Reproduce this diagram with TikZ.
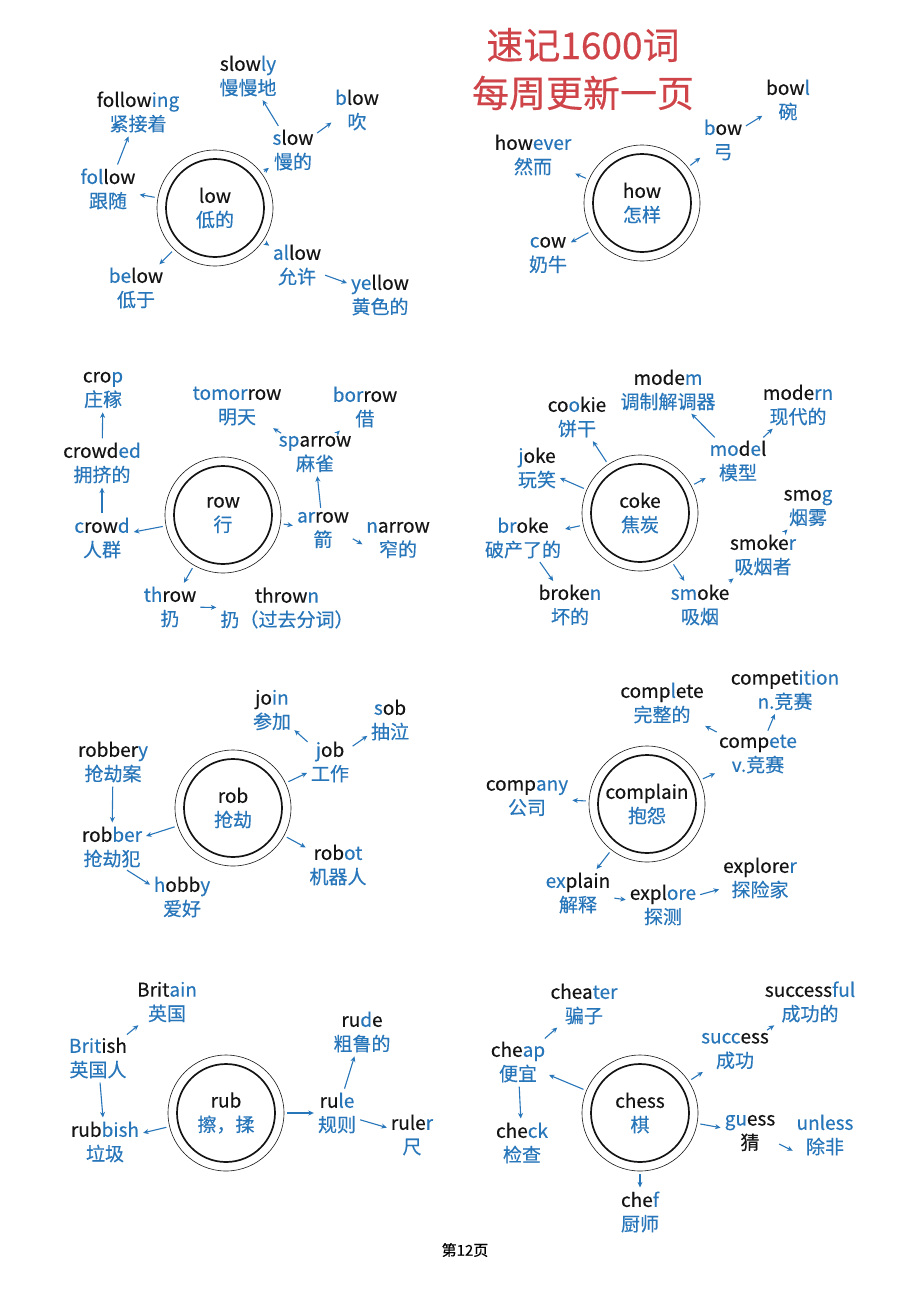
\documentclass[tikz,border=0pt]{standalone}
\usepackage{fontspec}
\setmainfont{Noto Sans CJK SC}[FakeBold=0.35]
\usetikzlibrary{arrows.meta}
\definecolor{wblue}{RGB}{40,118,186}
\definecolor{wred}{RGB}{206,68,72}
\definecolor{wink}{RGB}{20,20,20}
\newcommand{\bl}[1]{\textcolor{wblue}{#1}}
\newcommand{\wfont}{\fontsize{19}{24}\selectfont}
\tikzset{
  hub/.style={circle, draw=wink, line width=0.6pt, minimum size=116pt, inner sep=0pt, align=center, font=\wfont, text=wink},
  word/.style={align=center, inner sep=1pt, font=\wfont, text=wink},
  arr/.style={draw=wblue, line width=1.1pt, -{Stealth[length=5.5pt,width=5pt]}, shorten <=3pt, shorten >=3pt},
  innerring/.style={line width=1.7pt, draw=wink},
  titletext/.style={font=\fontsize{37}{42}\selectfont, text=wred},
}
\begin{document}
\begin{tikzpicture}[x=1pt,y=-1pt]
\fill[white] (0,0) rectangle (918,1298);
\useasboundingbox (0,0) rectangle (918,1298);

% title
\node[titletext] (t1) at (583,45) {速记1600词};
\node[titletext] (t2) at (583,93) {每周更新一页};

% ---------- low ----------
\node[hub] (low) at (215,208) {low\\\bl{低的}};
\draw[innerring] (low.center) circle (49pt);
\node[word] (slowly) at (248,76) {slow\bl{ly}\\\bl{慢慢地}};
\node[word] (following) at (138,112) {follow\bl{ing}\\\bl{紧接着}};
\node[word] (blow) at (357,110) {\bl{b}low\\\bl{吹}};
\node[word] (slow) at (293,150) {\bl{s}low\\\bl{慢的}};
\node[word] (follow) at (108,189) {\bl{fol}low\\\bl{跟随}};
\node[word] (allow) at (297,265) {\bl{al}low\\\bl{允许}};
\node[word] (below) at (136,288) {\bl{be}low\\\bl{低于}};
\node[word] (yellow) at (380,295) {\bl{ye}llow\\\bl{黄色的}};
\draw[arr] (low) -- (slow);
\draw[arr] (slow) -- (slowly);
\draw[arr] (slow.35) -- (blow.205);
\draw[arr] (low) -- (follow);
\draw[arr] (follow) -- (following);
\draw[arr] (low) -- (allow);
\draw[arr] (allow) -- (yellow);
\draw[arr] (low) -- (below);

% ---------- how ----------
\node[hub] (how) at (642,203) {how\\\bl{怎样}};
\draw[innerring] (how.center) circle (49pt);
\node[word] (bowl) at (788,100) {bow\bl{l}\\\bl{碗}};
\node[word] (bow) at (723,140) {\bl{b}ow\\\bl{弓}};
\node[word] (however) at (533,155) {how\bl{ever}\\\bl{然而}};
\node[word] (cow) at (548,255) {\bl{c}ow\\\bl{奶牛}};
\draw[arr] (how) -- (bow);
\draw[arr] (bow) -- (bowl);
\draw[arr] (how) -- (however);
\draw[arr] (how) -- (cow);

% ---------- row ----------
\node[hub] (row) at (223,515) {row\\\bl{行}};
\draw[innerring] (row.center) circle (49pt);
\node[word] (crop) at (103,390) {cro\bl{p}\\\bl{庄稼}};
\node[word] (crowded) at (102,463) {crowd\bl{ed}\\\bl{拥挤的}};
\node[word] (crowd) at (102,538) {\bl{c}row\bl{d}\\\bl{人群}};
\node[word] (tomorrow) at (237,406) {\bl{tomor}row\\\bl{明天}};
\node[word] (borrow) at (365,407) {\bl{bor}row\\\bl{借}};
\node[word] (sparrow) at (315,454) {\bl{sp}arrow\\\bl{麻雀}};
\node[word] (arrow) at (323,530) {\bl{ar}row\\\bl{箭}};
\node[word] (narrow) at (398,540) {\bl{n}arrow\\\bl{窄的}};
\node[word] (throw) at (170,607) {\bl{th}row\\\bl{扔}};
\node[word] (thrown) at (287,608) {throw\bl{n}\\\bl{扔（过去分词）}};
\draw[arr] (row) -- (crowd);
\draw[arr] (crowd) -- (crowded);
\draw[arr] (crowded) -- (crop);
\draw[arr] (row) -- (arrow);
\draw[arr] (arrow) -- (sparrow);
\draw[arr] (sparrow) -- (tomorrow);
\draw[arr] (sparrow) -- (borrow);
\draw[arr] (arrow.-15) -- (narrow.190);
\draw[arr] (row) -- (throw);
\draw[arr] (throw) -- (thrown);

% ---------- coke ----------
\node[hub] (coke) at (640,513) {coke\\\bl{焦炭}};
\draw[innerring] (coke.center) circle (49pt);
\node[word] (modem) at (668,390) {mode\bl{m}\\\bl{调制解调器}};
\node[word] (modern) at (798,405) {mode\bl{rn}\\\bl{现代的}};
\node[word] (cookie) at (577,417) {co\bl{o}kie\\\bl{饼干}};
\node[word] (joke) at (537,468) {\bl{j}oke\\\bl{玩笑}};
\node[word] (model) at (738,461) {\bl{mo}d\bl{e}l\\\bl{模型}};
\node[word] (broke) at (523,538) {\bl{br}oke\\\bl{破产了的}};
\node[word] (broken) at (570,605) {broke\bl{n}\\\bl{坏的}};
\node[word] (smoke) at (700,605) {\bl{sm}oke\\\bl{吸烟}};
\node[word] (smoker) at (763,555) {smoke\bl{r}\\\bl{吸烟者}};
\node[word] (smog) at (808,508) {smo\bl{g}\\\bl{烟雾}};
\draw[arr] (coke) -- (cookie);
\draw[arr] (coke) -- (joke);
\draw[arr] (coke) -- (model);
\draw[arr] (model) -- (modem);
\draw[arr] (model) -- (modern);
\draw[arr] (coke) -- (broke);
\draw[arr] (broke) -- (broken);
\draw[arr] (coke) -- (smoke);
\draw[arr] (smoke) -- (smoker);
\draw[arr] (smoker) -- (smog);

% ---------- rob ----------
\node[hub] (rob) at (233,808) {rob\\\bl{抢劫}};
\draw[innerring] (rob.center) circle (49pt);
\node[word] (join) at (272,710) {jo\bl{in}\\\bl{参加}};
\node[word] (sob) at (390,720) {\bl{s}ob\\\bl{抽泣}};
\node[word] (job) at (330,762) {\bl{j}ob\\\bl{工作}};
\node[word] (robbery) at (113,762) {robber\bl{y}\\\bl{抢劫案}};
\node[word] (robber) at (112,847) {rob\bl{ber}\\\bl{抢劫犯}};
\node[word] (robot) at (338,865) {rob\bl{ot}\\\bl{机器人}};
\node[word] (hobby) at (182,897) {\bl{h}obb\bl{y}\\\bl{爱好}};
\draw[arr] (rob) -- (job);
\draw[arr] (job) -- (join);
\draw[arr] (job) -- (sob);
\draw[arr] (robbery) -- (robber);
\draw[arr] (rob) -- (robber);
\draw[arr] (robber.-60) -- (hobby.160);
\draw[arr] (rob) -- (robot);

% ---------- complain ----------
\node[hub] (complain) at (647,804) {complain\\\bl{抱怨}};
\draw[innerring] (complain.center) circle (49pt);
\node[word] (complete) at (662,703) {comp\bl{l}ete\\\bl{完整的}};
\node[word] (competition) at (785,690) {compet\bl{ition}\\\bl{n.竞赛}};
\node[word] (compete) at (758,754) {comp\bl{ete}\\\bl{v.竞赛}};
\node[word] (company) at (527,798) {comp\bl{any}\\\bl{公司}};
\node[word] (explain) at (578,893) {\bl{ex}plain\\\bl{解释}};
\node[word] (explore) at (663,905) {expl\bl{ore}\\\bl{探测}};
\node[word] (explorer) at (760,878) {explore\bl{r}\\\bl{探险家}};
\draw[arr] (complain) -- (compete);
\draw[arr] (compete) -- (complete);
\draw[arr] (compete) -- (competition);
\draw[arr] (complain) -- (company);
\draw[arr] (complain) -- (explain);
\draw[arr] (explain) -- (explore);
\draw[arr] (explore) -- (explorer);

% ---------- rub ----------
\node[hub] (rub) at (226,1113) {rub\\\bl{擦，揉}};
\draw[innerring] (rub.center) circle (49pt);
\node[word] (Britain) at (167,1002) {Brit\bl{ain}\\\bl{英国}};
\node[word] (British) at (98,1058) {\bl{Brit}ish\\\bl{英国人}};
\node[word] (rubbish) at (105,1142) {rub\bl{bish}\\\bl{垃圾}};
\node[word] (rude) at (362,1032) {ru\bl{d}e\\\bl{粗鲁的}};
\node[word] (rule) at (337,1113) {ru\bl{le}\\\bl{规则}};
\node[word] (ruler) at (412,1135) {rule\bl{r}\\\bl{尺}};
\draw[arr] (British) -- (Britain);
\draw[arr] (British) -- (rubbish);
\draw[arr] (rub) -- (rubbish);
\draw[arr] (rub) -- (rule);
\draw[arr] (rule) -- (rude);
\draw[arr] (rule) -- (ruler);

% ---------- chess ----------
\node[hub] (chess) at (640,1113) {chess\\\bl{棋}};
\draw[innerring] (chess.center) circle (49pt);
\node[word] (cheater) at (584,1004) {chea\bl{ter}\\\bl{骗子}};
\node[word] (cheap) at (518,1062) {che\bl{ap}\\\bl{便宜}};
\node[word] (check) at (522,1143) {che\bl{ck}\\\bl{检查}};
\node[word] (chef) at (640,1212) {che\bl{f}\\\bl{厨师}};
\node[word] (success) at (735,1051) {\bl{succ}ess\\\bl{成功}};
\node[word] (successful) at (810,1002) {success\bl{ful}\\\bl{成功的}};
\node[word] (guess) at (750,1133) {\bl{gu}ess\\猜};
\node[word] (unless) at (825,1135) {\bl{unless}\\\bl{除非}};
\draw[arr] (chess) -- (cheap);
\draw[arr] (cheap) -- (cheater);
\draw[arr] (cheap) -- (check);
\draw[arr] (chess) -- (success);
\draw[arr] (success) -- (successful);
\draw[arr] (chess) -- (guess);
\draw[arr] (guess.-20) -- (unless.210);
\draw[arr] (chess) -- (chef);

% footer
\node[font=\fontsize{15}{18}\selectfont, text=black] (foot) at (465,1250) {第12页};
\end{tikzpicture}
\end{document}
